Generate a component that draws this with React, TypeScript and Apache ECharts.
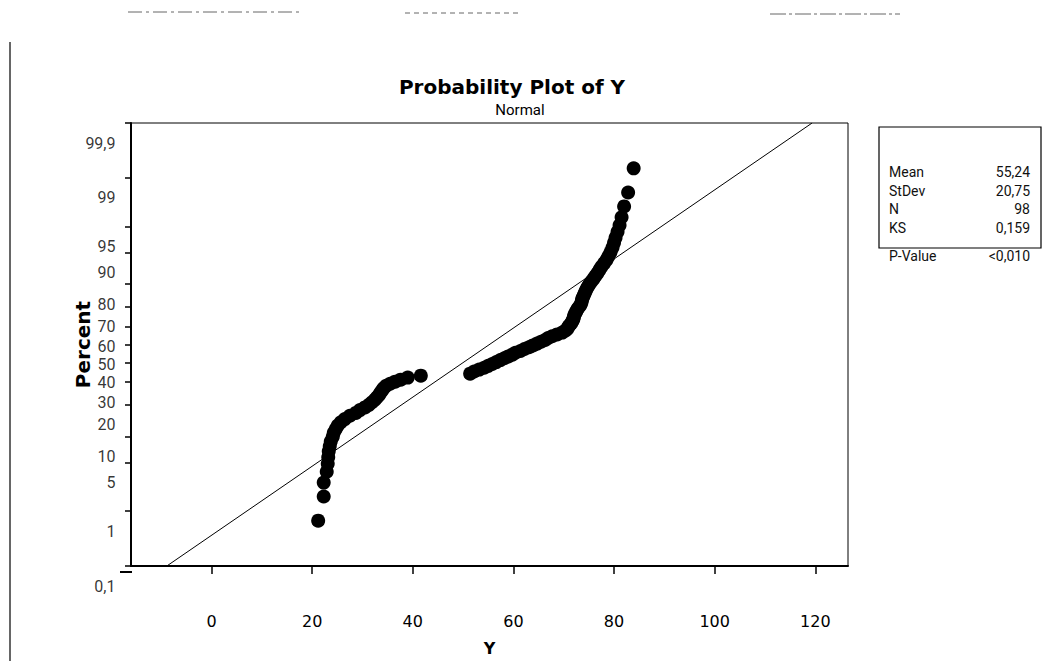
import React, { useEffect, useRef } from "react";
import * as echarts from "echarts";

const yValues = [
  21.2, 22.3, 22.3, 22.9, 23.1, 23.2, 23.3, 23.5, 23.7, 24.1,
  24.3, 24.7, 25.1, 25.7, 26.5, 27.5, 28.7, 29.5, 30.5, 31.3,
  31.9, 32.5, 32.9, 33.3, 33.6, 33.9, 34.2, 34.7, 35.5, 36.5,
  37.6, 39.0, 41.6,
  51.4, 52.2, 53.2, 54.2, 55.0, 55.8, 56.6, 57.4, 58.2, 59.0,
  59.8, 60.4, 61.4, 62.2, 63.1, 63.9, 64.7, 65.5, 66.3, 66.9,
  67.7, 68.7, 69.7, 70.3, 70.7, 70.9, 71.2, 71.5, 71.7, 71.9,
  72.0, 72.1, 72.3, 72.5, 72.7, 73.0, 73.3, 73.5, 73.6, 73.7,
  73.9, 74.1, 74.3, 74.5, 74.8, 75.1, 75.5, 75.9, 76.3, 76.7,
  77.1, 77.5, 78.0, 78.5, 78.9, 79.3, 79.7, 80.0, 80.3, 80.7,
  81.1, 81.5, 82.0, 82.8, 83.9,
];

// Plotting positions (percent) of each observation
const percents = [
  0.7, 1.7, 2.7, 3.8, 4.8, 5.8, 6.8, 7.8, 8.8, 9.9,
  10.9, 11.9, 12.9, 13.9, 14.9, 16.0, 17.0, 18.0, 19.0, 20.0,
  21.0, 22.1, 23.1, 24.1, 25.1, 26.1, 27.1, 28.2, 29.2, 30.2,
  31.2, 32.2, 33.2, 34.2, 35.3, 36.3, 37.3, 38.3, 39.3, 40.3,
  41.4, 42.4, 43.4, 44.4, 45.4, 46.4, 47.5, 48.5, 49.5,
  50.5, 51.5, 52.5, 53.6, 54.6, 55.6, 56.6, 57.6, 58.6, 59.7,
  60.7, 61.7, 62.7, 63.7, 64.7, 65.8, 66.8, 67.8, 68.8, 69.8,
  70.8, 71.9, 72.9, 73.9, 74.9, 75.9, 76.9, 77.9, 79.0, 80.0,
  81.0, 82.0, 83.0, 84.0, 85.1, 86.1, 87.1, 88.1, 89.1, 90.1,
  91.2, 92.2, 93.2, 94.2, 95.2, 96.2, 97.3, 98.3, 99.3,
];

const tickPercents = [0.1, 1, 5, 10, 20, 30, 40, 50, 60, 70, 80, 90, 95, 99, 99.9];
const xTicks = [0, 20, 40, 60, 80, 100, 120];

const mean = 55.24;
const stDev = 20.75;
const statLabels = ["Mean", "StDev", "N", "KS", "P-Value"];
const statValues = ["55,24", "20,75", "98", "0,159", "<0,010"];

// inverse standard normal CDF (Acklam)
function probit(p: number): number {
  const a = [-3.969683028665376e1, 2.209460984245205e2, -2.759285104469687e2, 1.38357751867269e2, -3.066479806614716e1, 2.506628277459239];
  const b = [-5.447609879822406e1, 1.615858368580409e2, -1.556989798598866e2, 6.680131188771972e1, -1.328068155288572e1];
  const c = [-7.784894002430293e-3, -3.223964580411365e-1, -2.400758277161838, -2.549732539343734, 4.374664141464968, 2.938163982698783];
  const d = [7.784695709041462e-3, 3.224671290700398e-1, 2.445134137142996, 3.754408661907416];
  const plow = 0.02425;
  const phigh = 1 - plow;
  if (p < plow) {
    const q = Math.sqrt(-2 * Math.log(p));
    return (((((c[0] * q + c[1]) * q + c[2]) * q + c[3]) * q + c[4]) * q + c[5]) /
      ((((d[0] * q + d[1]) * q + d[2]) * q + d[3]) * q + 1);
  }
  if (p <= phigh) {
    const q = p - 0.5;
    const r = q * q;
    return ((((((a[0] * r + a[1]) * r + a[2]) * r + a[3]) * r + a[4]) * r + a[5]) * q) /
      (((((b[0] * r + b[1]) * r + b[2]) * r + b[3]) * r + b[4]) * r + 1);
  }
  const q = Math.sqrt(-2 * Math.log(1 - p));
  return -(((((c[0] * q + c[1]) * q + c[2]) * q + c[3]) * q + c[4]) * q + c[5]) /
    ((((d[0] * q + d[1]) * q + d[2]) * q + d[3]) * q + 1);
}

const zOf = (pct: number) => probit(pct / 100);

export default function App() {
  const ref = useRef<HTMLDivElement>(null);

  useEffect(() => {
    if (!ref.current) return;
    const chart = echarts.init(ref.current, undefined, { renderer: "svg" });

    const xMin = -16;
    const xMax = 126.5;
    const tickZ = tickPercents.map(zOf);
    const zMin = zOf(tickPercents[0]);
    const zMax = zOf(tickPercents[tickPercents.length - 1]);
    const points = yValues.map((y, i) => [y, zOf(percents[i])]);
    const fitLine = [
      [mean + zMin * stDev, zMin],
      [mean + zMax * stDev, zMax],
    ];
    const tickLabelData = tickPercents.map((p, i) => ({
      value: [xMin, tickZ[i]],
      name: String(p).replace(".", ","),
    }));

    const narrow = "Roboto, Liberation Sans, Arial, sans-serif";
    const verdana = "DejaVu Sans, Verdana, sans-serif";

    const statRowsY = [172, 191, 209, 228, 256];
    const graphic: any[] = [
      // scan artefacts
      { type: "line", shape: { x1: 10, y1: 42, x2: 10, y2: 661 }, style: { stroke: "#333", lineWidth: 1.5 } },
      { type: "line", shape: { x1: 128, y1: 12, x2: 300, y2: 12 }, style: { stroke: "#666", lineWidth: 1, lineDash: [14, 4, 3, 4] } },
      { type: "line", shape: { x1: 405, y1: 13, x2: 520, y2: 13 }, style: { stroke: "#666", lineWidth: 1, lineDash: [5, 4] } },
      { type: "line", shape: { x1: 770, y1: 14, x2: 900, y2: 14 }, style: { stroke: "#666", lineWidth: 1, lineDash: [16, 3, 3, 3] } },
      // title
      {
        type: "text", x: 512, y: 87,
        style: { text: "Probability Plot of Y", font: `bold 20px ${verdana}`, fill: "#000", align: "center", verticalAlign: "middle" },
      },
      {
        type: "text", x: 520, y: 110,
        style: { text: "Normal", font: `15px ${narrow}`, fill: "#000", align: "center", verticalAlign: "middle" },
      },
      // x-axis left stub
      { type: "line", shape: { x1: 120, y1: 572, x2: 132, y2: 572 }, style: { stroke: "#000", lineWidth: 2 } },
      // stats box
      { type: "rect", shape: { x: 879, y: 127, width: 162, height: 121 }, style: { fill: "none", stroke: "#000", lineWidth: 1.2 } },
    ];
    statLabels.forEach((lab, i) => {
      graphic.push({
        type: "text", x: 889, y: statRowsY[i],
        style: { text: lab, font: `14px ${narrow}`, fill: "#111", align: "left", verticalAlign: "middle" },
      });
      graphic.push({
        type: "text", x: 1030, y: statRowsY[i],
        style: { text: statValues[i], font: `14px ${narrow}`, fill: "#111", align: "right", verticalAlign: "middle" },
      });
    });

    chart.setOption({
      animation: false,
      backgroundColor: "#fff",
      grid: { left: 131, right: 210, top: 123, bottom: 89, show: true, borderColor: "#000", borderWidth: 1, containLabel: false },
      xAxis: {
        type: "value",
        min: xMin,
        max: xMax,
        name: "Y",
        nameLocation: "middle",
        nameGap: 74,
        nameTextStyle: { fontFamily: verdana, fontWeight: "bold", fontSize: 16, color: "#000", verticalAlign: "top" },
        axisLine: { show: true, onZero: false, lineStyle: { color: "#000", width: 2 } },
        axisTick: { show: true, length: 8, customValues: xTicks, lineStyle: { color: "#000", width: 1.5 } },
        axisLabel: { customValues: xTicks, margin: 47, fontFamily: verdana, fontSize: 16, color: "#000" },
        splitLine: { show: false },
      },
      yAxis: {
        type: "value",
        min: zMin,
        max: zMax,
        name: "Percent",
        nameLocation: "middle",
        nameGap: 38,
        nameTextStyle: { fontFamily: verdana, fontWeight: "bold", fontSize: 20, color: "#000" },
        axisLine: { show: true, onZero: false, lineStyle: { color: "#000", width: 2 } },
        axisTick: { show: true, length: 6, customValues: tickZ, lineStyle: { color: "#000", width: 1.5 } },
        axisLabel: { show: false },
        splitLine: { show: false },
      },
      graphic,
      series: [
        {
          type: "line",
          data: fitLine,
          symbol: "none",
          lineStyle: { color: "#000", width: 1 },
          z: 3,
        },
        {
          type: "scatter",
          data: points,
          symbol: "circle",
          symbolSize: 14,
          itemStyle: { color: "#000", opacity: 1 },
          z: 4,
        },
        {
          // probability-scale tick labels (printed slightly below their ticks, as in the scan)
          type: "scatter",
          data: tickLabelData,
          symbol: "circle",
          symbolSize: 1,
          clip: false,
          silent: true,
          itemStyle: { color: "rgba(0,0,0,0)" },
          label: {
            show: true,
            position: "left",
            distance: 15,
            formatter: (p: any) => p.name,
            fontFamily: narrow,
            fontSize: 16,
            color: "#000",
          },
          labelLayout: { dy: 20, hideOverlap: false },
          z: 5,
        },
      ],
    });

    return () => chart.dispose();
  }, []);

  return (
    <div
      ref={ref}
      style={{ position: "fixed", left: 0, top: 0, width: 1058, height: 661, background: "#fff" }}
    />
  );
}
